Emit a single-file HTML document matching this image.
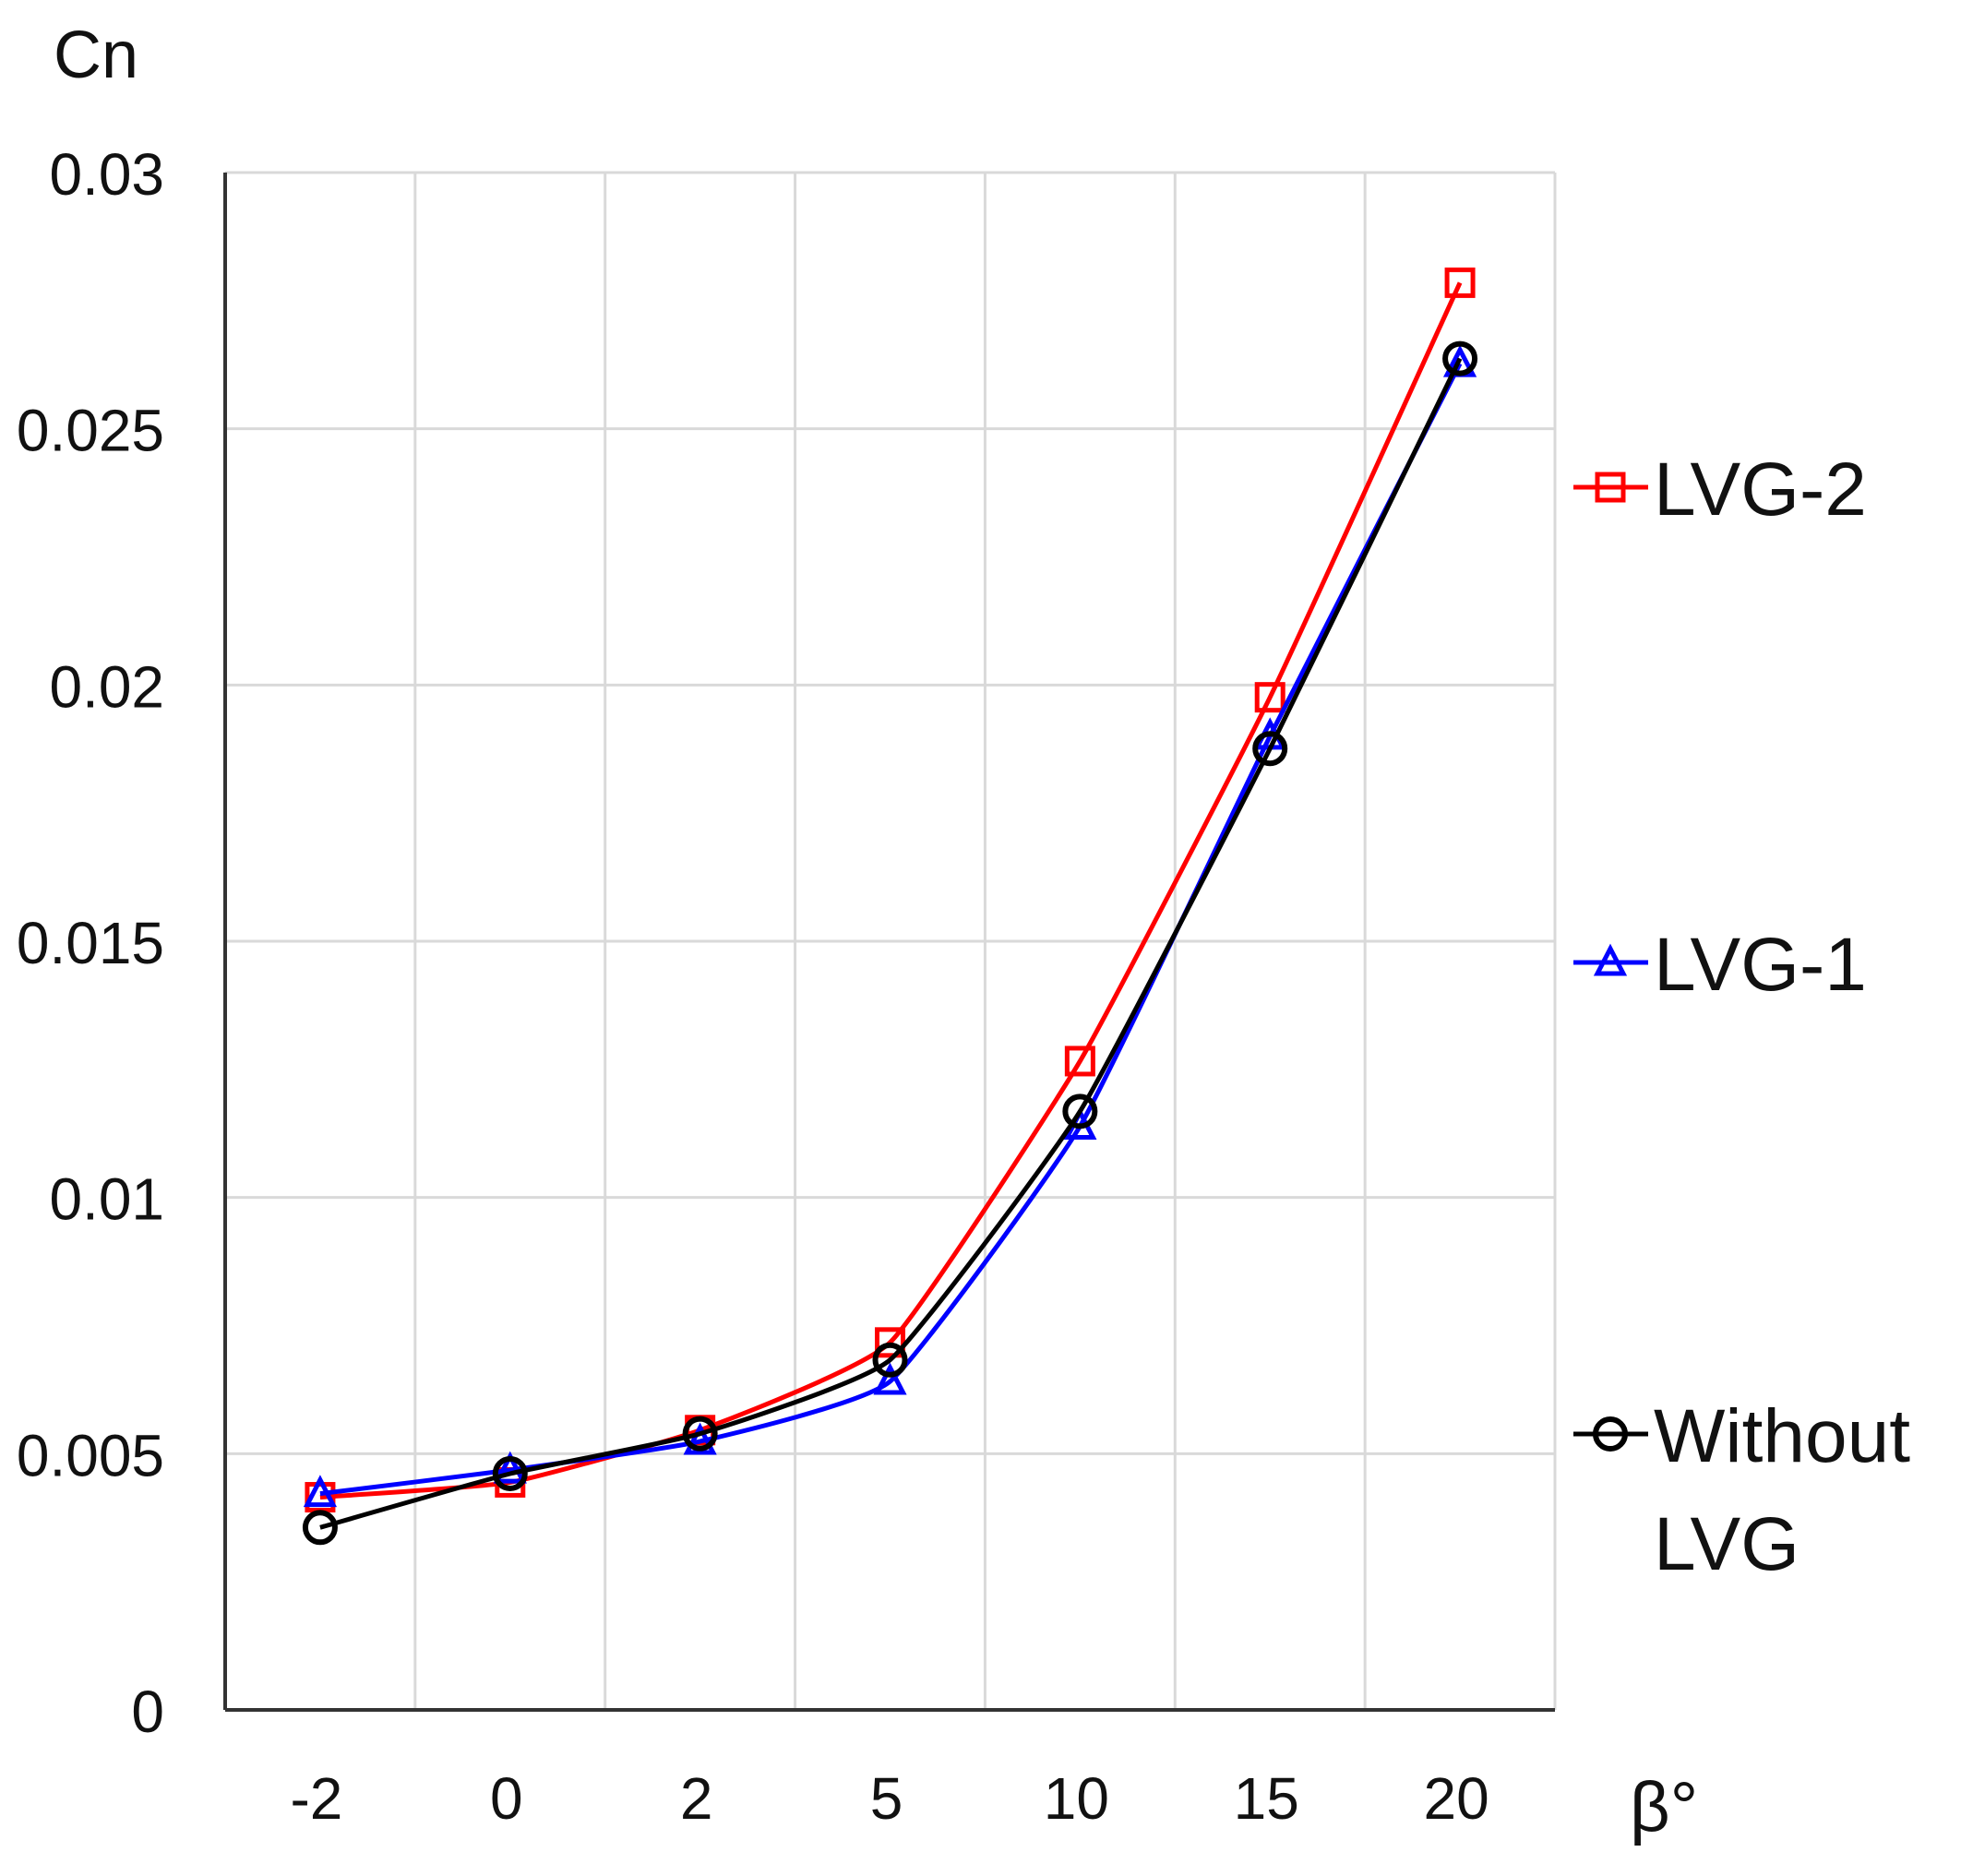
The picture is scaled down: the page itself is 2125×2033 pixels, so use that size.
<!DOCTYPE html>
<html><head><meta charset="utf-8"><style>
html,body{margin:0;padding:0;background:#fff;}
svg{display:block;font-family:"Liberation Sans",sans-serif;}
</style></head><body>
<svg id="chart" width="2125" height="2033" viewBox="0 0 2125 2033" xmlns="http://www.w3.org/2000/svg">
<rect x="0" y="0" width="2125" height="2033" fill="#fff"/>
<g id="grid"></g>
<g id="axes"></g>
<g id="series"></g>
<text x="58" y="84" font-size="72" fill="#111">Cn</text>
<text x="1766" y="1984" font-size="76" fill="#111">β°</text>
<g id="legend"></g>
</svg>
<script>
const categories = ["-2","0","2","5","10","15","20"];
const yTicks = [0,0.005,0.01,0.015,0.02,0.025,0.03];
const yTickLabels = ["0","0.005","0.01","0.015","0.02","0.025","0.03"];
const lvg2 = [0.00415,0.00444,0.00546,0.00717,0.01266,0.01976,0.02785];
const lvg1 = [0.00422,0.00468,0.00524,0.00641,0.01139,0.0190,0.02627];
const without = [0.00356,0.00461,0.00539,0.00683,0.01168,0.01876,0.02637];

const L=244,R=1685,T=187,B=1853,YMAX=0.03;
const NS="http://www.w3.org/2000/svg";
const bw=(R-L)/categories.length;
function xs(i){return L+bw*(i+0.5);}
function ys(v){return B-(v/YMAX)*(B-T);}
function mk(tag,attrs,parent){const e=document.createElementNS(NS,tag);for(const k in attrs)e.setAttribute(k,attrs[k]);parent.appendChild(e);return e;}
const grid=document.getElementById('grid'),axes=document.getElementById('axes'),series=document.getElementById('series'),legend=document.getElementById('legend');

yTicks.forEach((t,i)=>{
  if(t>0){const g=mk('line',{x1:L,x2:R,y1:ys(t),y2:ys(t),stroke:'#d9d9d9','stroke-width':3},grid);
  
  }
  const tx=mk('text',{x:178,y:ys(t)+24,'text-anchor':'end','font-size':64,fill:'#111'},axes);
  tx.textContent=yTickLabels[i];
  
  
});
for(let i=1;i<=categories.length;i++){
  const g=mk('line',{x1:L+bw*i,x2:L+bw*i,y1:T,y2:B,stroke:'#d9d9d9','stroke-width':3},grid);
  
  
}
categories.forEach((c,i)=>{
  const tx=mk('text',{x:xs(i)-4,y:1971,'text-anchor':'middle','font-size':64,fill:'#111'},axes);
  tx.textContent=c;
  
  
});
const ya=mk('line',{x1:L,x2:L,y1:T,y2:B,stroke:'#333','stroke-width':4},axes);


const xa=mk('line',{x1:L,x2:R,y1:B,y2:B,stroke:'#333','stroke-width':4},axes);



function marker(type,x,y,color,parent){
  let e;
  if(type==='square') e=mk('rect',{x:x-14,y:y-14,width:28,height:28,fill:'none',stroke:color,'stroke-width':5},parent);
  else if(type==='tri') e=mk('polygon',{points:`${x},${y-15} ${x-14},${y+12} ${x+14},${y+12}`,fill:'none',stroke:color,'stroke-width':5},parent);
  else e=mk('circle',{cx:x,cy:y,r:16,fill:'none',stroke:color,'stroke-width':6},parent);
  return e;
}
function smoothPath(pts){
  let d=`M${pts[0][0]},${pts[0][1]}`;
  for(let i=0;i<pts.length-1;i++){
    const p0=pts[i-1]||pts[i],p1=pts[i],p2=pts[i+1],p3=pts[i+2]||p2;
    const t=0.07;
    const c1=[p1[0]+(p2[0]-p0[0])*t,p1[1]+(p2[1]-p0[1])*t];
    const c2=[p2[0]-(p3[0]-p1[0])*t,p2[1]-(p3[1]-p1[1])*t];
    d+=` C${c1[0]},${c1[1]} ${c2[0]},${c2[1]} ${p2[0]},${p2[1]}`;
  }
  return d;
}
function drawSeries(vals,color,type,name){
  const g=mk('g',{},series);
  
  
  const pl=mk('path',{d:smoothPath(vals.map((v,i)=>[xs(i),ys(v)])),fill:'none',stroke:color,'stroke-width':5},g);
  
  
  vals.forEach((v,i)=>{const m=marker(type,xs(i),ys(v),color,g);
    
    });
}
drawSeries(lvg2,'#ff0000','square','lvg-2');
drawSeries(lvg1,'#0000ff','tri','lvg-1');
drawSeries(without,'#000000','circle','without-lvg');

function legendEntry(y,color,type,lines,name){
  const g=mk('g',{},legend);
  
  
  mk('line',{x1:1705,x2:1786,y1:y,y2:y,stroke:color,'stroke-width':5},g);
  marker(type,1745,y,color,g);
  lines.forEach((s,k)=>{const t=mk('text',{x:1792,y:y+30+k*117,'font-size':82,fill:'#111'},g);t.textContent=s;});
}
legendEntry(528,'#ff0000','square',['LVG-2'],'lvg-2');
legendEntry(1043,'#0000ff','tri',['LVG-1'],'lvg-1');
legendEntry(1554,'#000000','circle',['Without','LVG'],'without-lvg');
</script>
</body></html>
